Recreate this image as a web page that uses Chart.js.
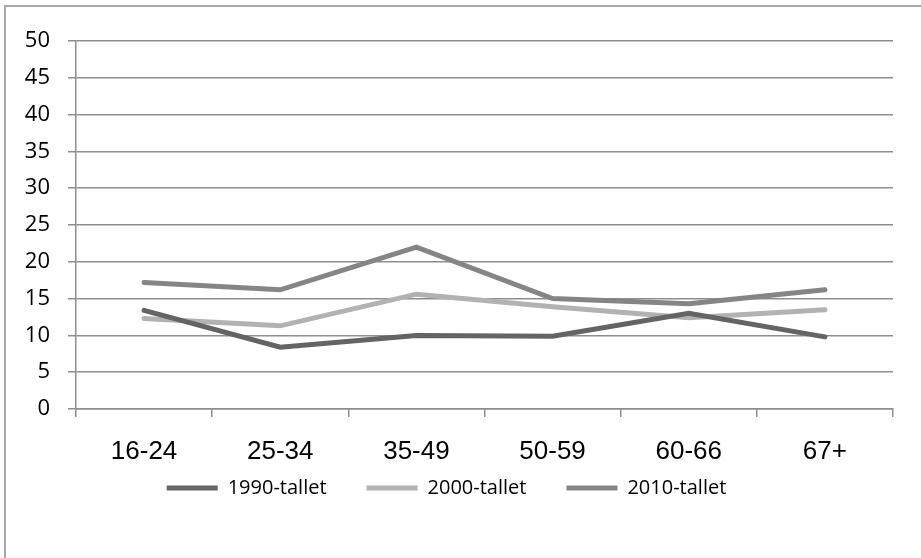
<!DOCTYPE html>
<html>
<head>
<meta charset="utf-8">
<script src="https://cdn.jsdelivr.net/npm/chart.js@4"></script>
<style>
  body { margin: 0; background: #fff; overflow: hidden; }
  #frame { position: absolute; left: 4px; top: 5px; width: 1000px; height: 1000px; border: 2px solid #a8a8a8; }
  #wrap { position: absolute; left: 0; top: 0; width: 921px; height: 558px; }
</style>
</head>
<body>
<div id="frame"></div>
<div id="wrap"><canvas id="chart" width="921" height="558"></canvas></div>
<script>
// age groups along the x axis
var ageGroups = ["16-24", "25-34", "35-49", "50-59", "60-66", "67+"];

// series values
var values1990 = [13.4, 8.4, 10.0, 9.9, 13.0, 9.8];
var values2000 = [12.3, 11.3, 15.6, 13.9, 12.4, 13.5];
var values2010 = [17.2, 16.2, 22.0, 15.0, 14.3, 16.2];

var seriesNames = ["1990-tallet", "2000-tallet", "2010-tallet"];
var seriesColors = ["#646464", "#b2b2b2", "#858585"];

// y axis range
var yMin = 0;
var yMax = 50;
var yStep = 5;

var gridColor = "#8e8e8e";

function makeSeries(name, values, color) {
  return {
    label: name,
    data: values,
    borderColor: color,
    backgroundColor: color,
    borderWidth: 5,
    borderCapStyle: "round",
    pointRadius: 0,
    tension: 0,
    fill: false,
  };
}

// pull the legend up a bit closer to the axis labels
var legendShift = {
  id: "legendShift",
  afterLayout: function (chart) {
    chart.legend.top -= 29;
    chart.legend.bottom -= 29;
  },
};

var ctx = document.getElementById("chart").getContext("2d");

var myChart = new Chart(ctx, {
  type: "line",
  data: {
    labels: ageGroups,
    datasets: [
      makeSeries(seriesNames[0], values1990, seriesColors[0]),
      makeSeries(seriesNames[1], values2000, seriesColors[1]),
      makeSeries(seriesNames[2], values2010, seriesColors[2]),
    ],
  },
  plugins: [legendShift],
  options: {
    responsive: false,
    animation: false,
    layout: {
      padding: { top: 41, right: 28, left: 0, bottom: 21 },
    },
    plugins: {
      tooltip: { enabled: false },
      legend: {
        position: "bottom",
        labels: {
          boxWidth: 51,
          boxHeight: 5,
          padding: 40,
          color: "#000",
          font: { family: "'Open Sans'", size: 20 },
          // plain filled bar for each series, no outline
          generateLabels: function (chart) {
            return chart.data.datasets.map(function (ds, i) {
              return {
                text: ds.label,
                fillStyle: ds.borderColor,
                strokeStyle: ds.borderColor,
                lineWidth: 0,
                datasetIndex: i,
                hidden: false,
              };
            });
          },
        },
      },
    },
    scales: {
      x: {
        offset: true,
        afterFit: function (scale) {
          scale.height = 58;
        },
        grid: {
          offset: true,
          drawOnChartArea: false,
          color: gridColor,
          tickLength: 8,
          lineWidth: 1.5,
        },
        border: { color: gridColor, width: 1.5 },
        ticks: {
          color: "#000",
          padding: 19,
          maxRotation: 0,
          font: { family: "'Liberation Sans', Arial", size: 26 },
        },
      },
      y: {
        min: yMin,
        max: yMax,
        afterFit: function (scale) {
          scale.width = 76;
        },
        grid: {
          color: gridColor,
          tickLength: 8,
          lineWidth: 1.5,
        },
        border: { color: gridColor, width: 1.5 },
        ticks: {
          stepSize: yStep,
          color: "#000",
          padding: 18,
          font: { family: "'Open Sans'", size: 22 },
        },
      },
    },
  },
});
</script>
</body>
</html>
